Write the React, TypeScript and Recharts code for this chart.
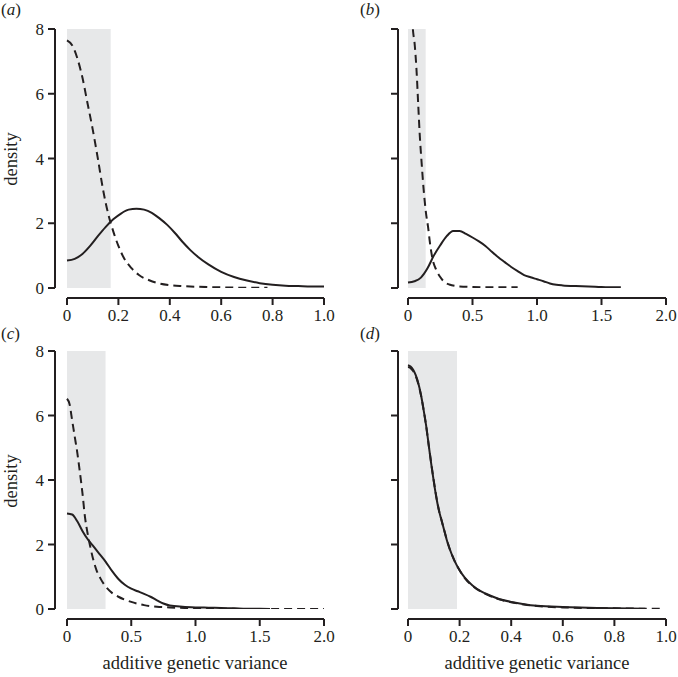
import React from "react";
import { LineChart, Line, XAxis, YAxis, ReferenceArea } from "recharts";

// panel (a)
const aSolidX = [0, 0.03, 0.06, 0.09, 0.12, 0.15, 0.18, 0.21, 0.24, 0.27, 0.3, 0.33, 0.36, 0.39, 0.42, 0.45, 0.48, 0.51, 0.55, 0.6, 0.65, 0.7, 0.75, 0.8, 0.85, 0.9, 0.95, 1.0];
const aSolidY = [0.85, 0.9, 1.05, 1.3, 1.6, 1.88, 2.12, 2.3, 2.42, 2.45, 2.42, 2.32, 2.15, 1.95, 1.7, 1.42, 1.17, 0.96, 0.73, 0.5, 0.34, 0.23, 0.15, 0.1, 0.07, 0.06, 0.05, 0.05];
const aDashX = [0, 0.02, 0.04, 0.06, 0.08, 0.1, 0.12, 0.14, 0.16, 0.18, 0.2, 0.22, 0.25, 0.28, 0.32, 0.36, 0.4, 0.45, 0.5, 0.6, 0.7, 0.78];
const aDashY = [7.65, 7.5, 7.1, 6.5, 5.7, 4.9, 4.0, 3.05, 2.3, 1.75, 1.3, 0.95, 0.62, 0.4, 0.24, 0.14, 0.09, 0.06, 0.04, 0.02, 0.01, 0.01];

// panel (b)
const bSolidX = [0, 0.05, 0.1, 0.15, 0.2, 0.25, 0.3, 0.35, 0.4, 0.45, 0.5, 0.55, 0.6, 0.65, 0.7, 0.75, 0.8, 0.85, 0.9, 0.95, 1.0, 1.05, 1.1, 1.15, 1.2, 1.3, 1.4, 1.5, 1.6, 1.65];
const bSolidY = [0.17, 0.21, 0.32, 0.6, 1.0, 1.32, 1.6, 1.76, 1.76, 1.67, 1.56, 1.44, 1.3, 1.12, 0.95, 0.8, 0.65, 0.52, 0.4, 0.33, 0.27, 0.21, 0.14, 0.1, 0.08, 0.06, 0.05, 0.03, 0.02, 0.02];
const bDashX = [0.025, 0.04, 0.05, 0.065, 0.08, 0.09, 0.105, 0.12, 0.14, 0.155, 0.17, 0.19, 0.22, 0.25, 0.29, 0.32, 0.4, 0.5, 0.6, 0.85];
const bDashY = [8.8, 7.9, 7.6, 6.8, 5.6, 4.8, 3.9, 3.1, 2.3, 1.9, 1.4, 0.9, 0.55, 0.34, 0.16, 0.11, 0.05, 0.03, 0.02, 0.02];

// panel (c)
const cSolidX = [0, 0.04, 0.08, 0.12, 0.16, 0.2, 0.25, 0.3, 0.35, 0.4, 0.45, 0.5, 0.55, 0.6, 0.65, 0.7, 0.75, 0.8, 0.9, 1.0, 1.1, 1.2, 1.3, 1.4, 1.5, 1.58];
const cSolidY = [2.96, 2.93, 2.72, 2.42, 2.17, 1.97, 1.72, 1.47, 1.18, 0.93, 0.75, 0.63, 0.55, 0.47, 0.38, 0.27, 0.17, 0.11, 0.07, 0.05, 0.04, 0.03, 0.02, 0.01, 0.01, 0];
const cDashX = [0, 0.02, 0.04, 0.06, 0.08, 0.1, 0.12, 0.14, 0.16, 0.18, 0.2, 0.23, 0.26, 0.3, 0.35, 0.4, 0.5, 0.6, 0.7, 0.8, 1.0, 1.2, 1.5, 2.0];
const cDashY = [6.52, 6.35, 5.85, 5.35, 4.85, 4.25, 3.6, 2.85, 2.35, 1.95, 1.6, 1.2, 0.95, 0.7, 0.5, 0.38, 0.22, 0.12, 0.07, 0.05, 0.02, 0.01, 0, 0];

// panel (d)
const dSolidX = [0, 0.01, 0.02, 0.03, 0.04, 0.05, 0.06, 0.07, 0.08, 0.09, 0.1, 0.11, 0.12, 0.13, 0.14, 0.15, 0.16, 0.18, 0.2, 0.22, 0.25, 0.28, 0.3, 0.35, 0.4, 0.45, 0.5, 0.6, 0.7, 0.8, 0.92];
const dSolidY = [7.56, 7.52, 7.42, 7.25, 7.0, 6.65, 6.2, 5.7, 5.1, 4.5, 3.95, 3.45, 3.05, 2.75, 2.45, 2.15, 1.9, 1.5, 1.2, 0.97, 0.73, 0.56, 0.48, 0.32, 0.22, 0.15, 0.1, 0.06, 0.04, 0.02, 0.01];
const dDashX = [0, 0.01, 0.02, 0.03, 0.04, 0.05, 0.06, 0.07, 0.08, 0.09, 0.1, 0.11, 0.12, 0.13, 0.14, 0.15, 0.16, 0.18, 0.2, 0.22, 0.25, 0.28, 0.3, 0.35, 0.4, 0.45, 0.5, 0.6, 0.7, 0.8, 0.92, 0.98];
const dDashY = [7.5, 7.47, 7.38, 7.22, 6.98, 6.64, 6.2, 5.7, 5.1, 4.52, 3.97, 3.47, 3.06, 2.75, 2.45, 2.16, 1.9, 1.5, 1.2, 0.96, 0.72, 0.55, 0.47, 0.31, 0.21, 0.14, 0.09, 0.05, 0.03, 0.02, 0.01, 0.01];

const yTicks = [0, 2, 4, 6, 8];
const xTicksShort = [0, 0.2, 0.4, 0.6, 0.8, 1.0];
const xTicksLong = [0, 0.5, 1.0, 1.5, 2.0];
const shadeEnd = { a: 0.17, b: 0.137, c: 0.3, d: 0.19 };

const INK = "#231f20";
const FONT = "'Liberation Serif', 'Times New Roman', serif";
const AXIS_W = 30;
const AXIS_H = 30;
const X_SHIFT = 10; // x-axis sits this far below the plot (R-style detached axes)
const TICK_FONT = 17;

const toPoints = (xs: number[], ys: number[]) => xs.map((x, i) => ({ x, y: ys[i] }));

const fmtX = (v: number) => (v === 0 ? "0" : v.toFixed(1));
const noLabel = () => "";

interface PanelProps {
  left: number;
  top: number;
  width: number;
  height: number;
  margin: { top: number; right: number; bottom: number; left: number };
  yShift: number;
  xMax: number;
  xTicks: number[];
  shade: number;
  solid: { x: number; y: number }[];
  dashed: { x: number; y: number }[];
  showYLabels: boolean;
}

function Panel(p: PanelProps) {
  // plot area sits at margin + axis size, so subtract the axis room here
  const m = { ...p.margin, left: p.margin.left - AXIS_W, bottom: p.margin.bottom - AXIS_H };
  // recharts 3 draws tick labels outside the axis group, so the css shift only moves lines;
  // the labels get the same shift through a bigger tickMargin
  return (
    <div style={{ position: "absolute", left: p.left, top: p.top }}>
      <LineChart width={p.width} height={p.height} margin={m}>
        <XAxis
          type="number"
          dataKey="x"
          domain={[0, p.xMax]}
          ticks={p.xTicks}
          tickFormatter={fmtX}
          height={AXIS_H}
          className="xoff"
          axisLine={{ stroke: INK, strokeWidth: 2 }}
          tickLine={{ stroke: INK, strokeWidth: 2 }}
          tickSize={7}
          tickMargin={4 + X_SHIFT}
          tick={{ fill: INK, fontSize: TICK_FONT, fontFamily: FONT }}
          interval={0}
        />
        <YAxis
          type="number"
          domain={[0, 8]}
          allowDataOverflow
          ticks={yTicks}
          width={AXIS_W}
          className={p.yShift === 12 ? "yoff12" : "yoff10"}
          axisLine={{ stroke: INK, strokeWidth: 2 }}
          tickLine={{ stroke: INK, strokeWidth: 2 }}
          tickSize={7}
          tickMargin={4 + p.yShift}
          tickFormatter={p.showYLabels ? undefined : noLabel}
          tick={{ fill: INK, fontSize: TICK_FONT, fontFamily: FONT }}
          interval={0}
        />
        <ReferenceArea x1={0} x2={p.shade} y1={0} y2={8} fill="#e7e8e9" fillOpacity={1} stroke="none" />
        <Line
          data={p.dashed}
          dataKey="y"
          type="monotone"
          stroke={INK}
          strokeWidth={2}
          strokeDasharray="8 5"
          dot={false}
          activeDot={false}
          isAnimationActive={false}
        />
        <Line
          data={p.solid}
          dataKey="y"
          type="monotone"
          stroke={INK}
          strokeWidth={2}
          dot={false}
          activeDot={false}
          isAnimationActive={false}
        />
      </LineChart>
    </div>
  );
}

const txt: React.CSSProperties = {
  position: "absolute",
  fontFamily: FONT,
  fontSize: 18.5,
  color: INK,
  whiteSpace: "nowrap",
  lineHeight: 1,
};

function Tag({ left, top, letter }: { left: number; top: number; letter: string }) {
  return (
    <div style={{ ...txt, fontSize: 17, left, top }}>
      (<i>{letter}</i>)
    </div>
  );
}

function DensityLabel({ top }: { top: number }) {
  return (
    <div style={{ ...txt, left: 11, top, transform: "translate(-50%, -50%) rotate(-90deg)" }}>density</div>
  );
}

export default function App() {
  const topM = { top: 29, right: 15, bottom: 42, left: 67 };
  const topMb = { top: 29, right: 12, bottom: 42, left: 69 };
  const botM = { top: 21, right: 15, bottom: 68, left: 67 };
  const botMd = { top: 21, right: 12, bottom: 68, left: 69 };
  return (
    <div style={{ position: "absolute", left: 0, top: 0, width: 678, height: 677, background: "#fff" }}>
      <style>{`g.xoff{transform:translate(0px,${X_SHIFT}px)}g.yoff12{transform:translate(-12px,0px)}g.yoff10{transform:translate(-10px,0px)}`}</style>
      <Panel left={0} top={0} width={339} height={330} margin={topM} yShift={12} xMax={1} xTicks={xTicksShort}
        shade={shadeEnd.a} solid={toPoints(aSolidX, aSolidY)} dashed={toPoints(aDashX, aDashY)} showYLabels />
      <Panel left={339} top={0} width={339} height={330} margin={topMb} yShift={10} xMax={2} xTicks={xTicksLong}
        shade={shadeEnd.b} solid={toPoints(bSolidX, bSolidY)} dashed={toPoints(bDashX, bDashY)} showYLabels={false} />
      <Panel left={0} top={330} width={339} height={347} margin={botM} yShift={12} xMax={2} xTicks={xTicksLong}
        shade={shadeEnd.c} solid={toPoints(cSolidX, cSolidY)} dashed={toPoints(cDashX, cDashY)} showYLabels />
      <Panel left={339} top={330} width={339} height={347} margin={botMd} yShift={10} xMax={1} xTicks={xTicksShort}
        shade={shadeEnd.d} solid={toPoints(dSolidX, dSolidY)} dashed={toPoints(dDashX, dDashY)} showYLabels={false} />

      <Tag left={1} top={1} letter="a" />
      <Tag left={360} top={1} letter="b" />
      <Tag left={1} top={325} letter="c" />
      <Tag left={360} top={325} letter="d" />

      <DensityLabel top={159} />
      <DensityLabel top={481} />

      <div style={{ ...txt, left: 195, top: 663, transform: "translate(-50%, -50%)" }}>additive genetic variance</div>
      <div style={{ ...txt, left: 537, top: 663, transform: "translate(-50%, -50%)" }}>additive genetic variance</div>
    </div>
  );
}
